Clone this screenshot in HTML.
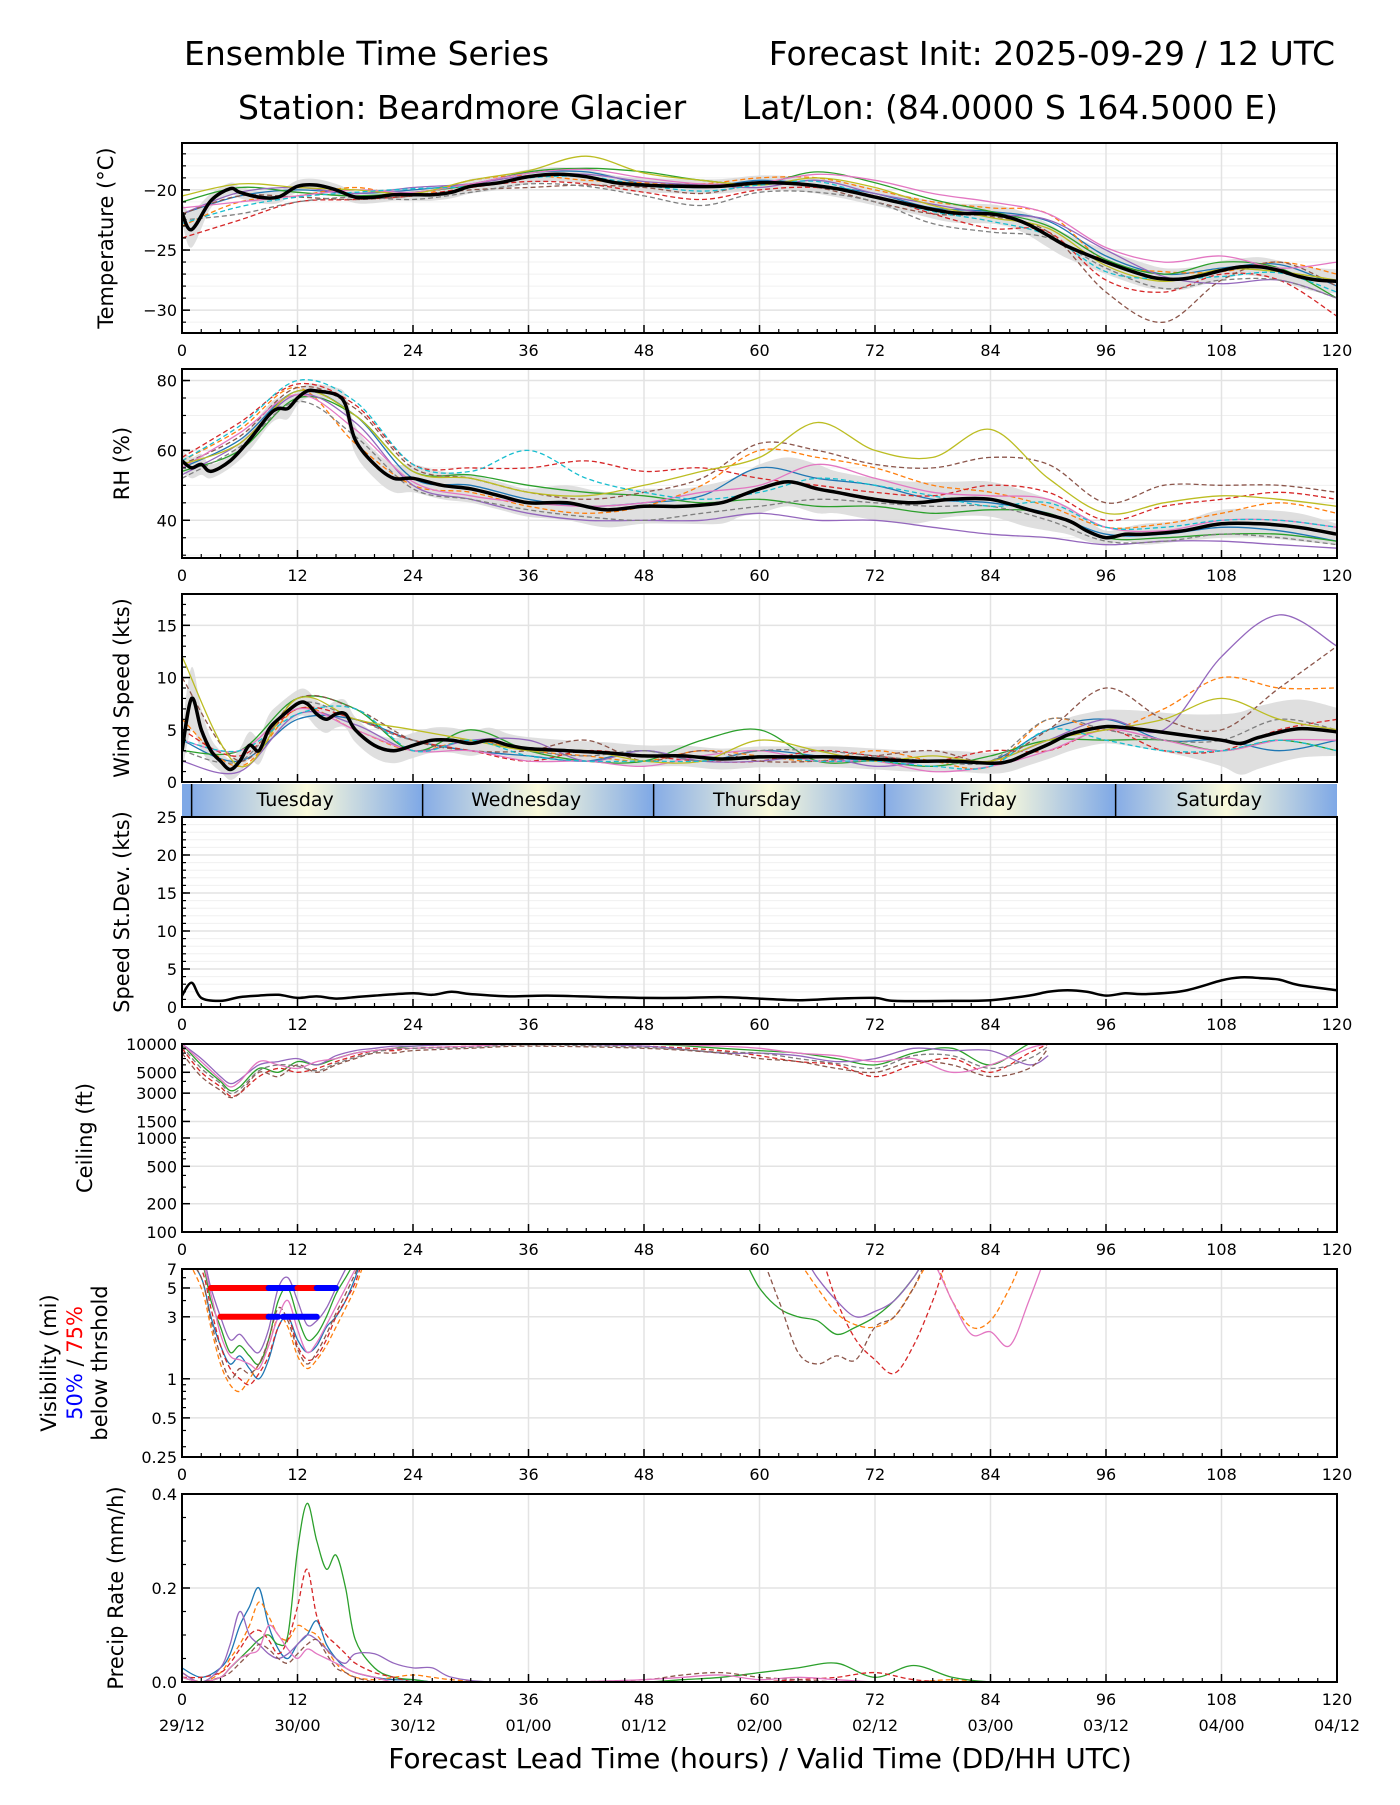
<!DOCTYPE html>
<html><head><meta charset="utf-8">
<style>
html,body{margin:0;padding:0;background:#fff;}
svg text{font-family:"DejaVu Sans","Liberation Sans",sans-serif;fill:#000;}
</style></head>
<body>
<svg id="chart" xmlns="http://www.w3.org/2000/svg" width="1400" height="1800" viewBox="0 0 1400 1800">
<defs>
<linearGradient id="dayGrad" x1="0" x2="1" y1="0" y2="0">
<stop offset="0" stop-color="#86ace6"/><stop offset="0.5" stop-color="#fafadc"/><stop offset="1" stop-color="#7ea8e6"/>
</linearGradient>
</defs>
<text x="184" y="65" font-size="33">Ensemble Time Series</text>
<text x="1335" y="65" font-size="33" text-anchor="end">Forecast Init: 2025-09-29 / 12 UTC</text>
<text x="238" y="119" font-size="33">Station: Beardmore Glacier</text>
<text x="1278" y="119" font-size="33" text-anchor="end">Lat/Lon: (84.0000 S 164.5000 E)</text>
<text x="760" y="1768" font-size="28" text-anchor="middle">Forecast Lead Time (hours) / Valid Time (DD/HH UTC)</text>
</svg>
<script>
// ---------- DATA ----------
const meanHours = [0,1,3,5,6,8,10,12,14,16,18,20,22,24,26,28,30,33,36,39,42,45,48,52,56,60,64,68,72,76,80,84,86,88,90,92,96,100,102,104,106,108,110,112,114,116,118,120];
const tempMean = [-21.9,-23.3,-20.9,-19.9,-20.2,-20.6,-20.6,-19.7,-19.6,-20,-20.6,-20.6,-20.4,-20.4,-20.4,-20.2,-19.7,-19.4,-18.9,-18.7,-18.9,-19.4,-19.6,-19.7,-19.7,-19.4,-19.5,-19.9,-20.6,-21.3,-21.9,-22.0,-22.3,-22.9,-23.8,-24.7,-26.0,-27.1,-27.4,-27.4,-27.1,-26.7,-26.4,-26.4,-26.7,-27.2,-27.5,-27.6];
const tempSpread = [0.8,1.5,0.6,0.5,0.5,0.5,0.5,0.5,0.5,0.5,0.5,0.5,0.5,0.5,0.5,0.5,0.6,0.6,0.6,0.6,0.6,0.6,0.6,0.6,0.6,0.6,0.6,0.7,0.7,0.7,0.8,0.8,0.8,0.9,1.0,1.0,1.0,1.0,0.9,0.9,0.8,0.8,0.7,0.8,0.8,0.9,1.0,1.0];
const rhHours = [0,1,2,3,5,7,9,10,11,12,13,14,16,17,18,20,22,24,27,30,33,36,40,44,48,52,56,58,60,63,66,68,72,76,80,84,88,92,94,96,98,100,104,108,112,116,120];
const rhMean = [57,55,56,54,57,63,70,72,72,75,77,77,76,73,63,56,52,52,50,49,47,45,45,43,44,44,45,47,49,51,49,48,46,45,46,46,43,40,37,35,36,36,37,39,39,38,36];
const rhSpread = [3,3,3,2,2,3,3,3,3,2,2,2,2,3,4,4,4,4,4,4,4,4,5,5,5,5,6,6,7,7,7,6,6,6,5,5,5,4,3,2,2,3,3,4,4,4,3];
const windHours = [0,1,2,3,4,5,6,7,8,9,10,12,13,14,15,16,17,18,20,22,24,26,28,30,32,34,36,40,44,48,52,56,60,64,68,72,76,80,84,86,88,90,92,94,96,98,100,104,108,110,112,116,120];
const windMean = [3,8,5,3,2,1.2,2,3.5,3,5,6,7.5,7.5,6.5,6,6.5,6.5,5,3.5,3,3.5,4,4,3.7,4,3.5,3.2,3,2.8,2.5,2.5,2.2,2.4,2.4,2.4,2.2,2,2,1.8,2,2.8,3.6,4.5,5,5.3,5.2,5,4.5,4,3.7,4.3,5.1,4.8];
const windSpread = [2,3,2,1.2,1,1,1.2,1.3,1.3,1.4,1.4,1.3,1.3,1.3,1.3,1.3,1.3,1.2,1.2,1.2,1.2,1.2,1.2,1.2,1.2,1.1,1.1,1,1,1,1,1,1,1,1,1,1,1,1,1,1.2,1.4,1.6,1.6,1.6,1.7,1.8,2,2.5,3,3,2.8,2.3];
const sdHours = [0,1,2,4,6,8,10,12,14,16,18,20,24,26,28,30,34,38,44,48,52,56,60,64,68,72,74,80,84,88,90,92,94,96,98,100,104,108,110,112,114,116,120];
const sdValues = [1.5,3.2,1.2,0.8,1.3,1.5,1.6,1.2,1.4,1.1,1.3,1.5,1.8,1.6,2.0,1.7,1.4,1.5,1.3,1.2,1.2,1.3,1.1,0.9,1.1,1.2,0.8,0.8,0.9,1.5,2.0,2.2,2.0,1.5,1.8,1.7,2.1,3.5,3.9,3.8,3.6,2.9,2.2];

const memberHours = [0,6,12,18,24,30,36,42,48,54,60,66,72,78,84,90,96,102,108,114,120];
const tempM1 = [-22,-20.5,-20,-20.3,-20,-19.5,-18.6,-18.5,-19.5,-19.8,-19.2,-19.6,-20.3,-21.5,-21.8,-22.6,-25.5,-27,-26.5,-26.2,-28];
const tempM2 = [-23,-21,-20.5,-19.8,-20.5,-19.2,-18.8,-19.2,-19.4,-19.5,-19,-19,-20,-21,-21.5,-22,-26,-26.8,-26.8,-26,-27];
const tempM3 = [-21,-19.8,-20.2,-20.5,-20.2,-19.6,-18.5,-18.2,-18.5,-19.2,-19.5,-18.5,-19.4,-20.8,-21.8,-23,-25.8,-27,-26,-26.5,-29];
const tempM4 = [-24,-22.5,-21,-20.8,-20.5,-19.8,-19.3,-19.5,-20.2,-20.8,-20,-19.8,-20.5,-22,-23.2,-23.5,-27.5,-28.5,-27,-27.5,-30.5];
const tempM5 = [-22,-20.2,-19.8,-20.3,-19.8,-19.5,-18.8,-18.7,-19.3,-19.6,-19.8,-19.2,-20.3,-21.2,-22,-22.5,-25,-27.2,-27.8,-27.5,-29];
const tempM6 = [-22,-20.5,-20.6,-20.8,-20.5,-20,-19.8,-19.6,-19.8,-20.3,-19.5,-19.8,-21,-22,-22.2,-23.5,-28.5,-31,-27.5,-26,-28];
const tempM7 = [-21.5,-21,-20.5,-20,-20.2,-19.5,-18.6,-18.3,-19,-19.5,-19.4,-18.7,-19.2,-20.3,-21,-22,-24.8,-26,-25.5,-26.5,-26];
const tempM8 = [-22.5,-22,-21,-20.6,-20.8,-20.2,-19.5,-19.7,-20.5,-21.3,-20.2,-20.2,-21,-22.8,-23.5,-24,-26.5,-28.2,-27.5,-27.5,-29];
const tempM9 = [-20.5,-19.5,-19.8,-20,-20.3,-19.2,-18.4,-17.2,-18.6,-19.2,-19.6,-19,-19.8,-21.3,-22.3,-23.2,-26.3,-27.6,-26.6,-26.8,-27.5];
const tempM10 = [-22.8,-21.4,-20.6,-20.2,-19.9,-19.7,-19.0,-18.9,-19.6,-20.1,-19.6,-19.3,-20.6,-21.8,-22.6,-23.8,-26.8,-27.4,-27.2,-26.9,-28.5];

const rhM1 = [55,63,77,70,52,50,46,44,45,47,55,52,50,46,45,42,36,36,38,37,34];
const rhM2 = [57,66,78,62,50,48,44,42,44,50,60,58,55,50,48,44,38,39,42,45,42];
const rhM3 = [54,60,75,70,54,53,50,48,47,45,46,44,44,42,43,42,35,35,36,36,34];
const rhM4 = [58,68,79,73,56,55,55,57,54,55,52,50,48,47,50,48,40,44,46,48,46];
const rhM5 = [53,62,76,68,50,46,42,40,40,40,42,40,40,38,36,35,33,34,34,33,32];
const rhM6 = [56,64,78,72,55,52,48,46,48,52,62,60,56,55,58,56,45,50,50,50,48];
const rhM7 = [55,65,76,66,51,47,45,44,45,48,50,56,52,48,47,46,38,37,40,40,38];
const rhM8 = [52,61,74,64,49,46,43,41,40,42,44,46,45,44,44,40,34,34,36,35,33];
const rhM9 = [56,62,77,70,54,52,48,47,50,54,58,68,60,58,66,52,42,45,47,46,44];
const rhM10 = [57,67,80,74,56,54,60,52,48,46,48,52,50,47,44,45,38,38,40,40,38];

const windM1 = [4,2,6,6,4,3,2.5,2,3,2,3,2.5,2,2,2,5,6,4,4,3,4];
const windM2 = [6,1.5,7,5,3,4,3,2.5,2,3,2.5,2,3,2,1.5,6,5,7,10,9,9];
const windM3 = [3,3,8,7,3,5,3,2,2,4,5,2,2,1.5,2.5,4,4,4,3,4,3];
const windM4 = [5,2.5,7,6,4,3,2,3,2.5,2,2,3,2.5,2,3,3,5,3,3,5,6];
const windM5 = [2,1,6.5,5.5,3,4,4,2,3,2,2,2.5,1.5,2,2,4,6,5,12,16,13];
const windM6 = [10,2,8,7,4,3,3,4,2,3,2,2,2.5,3,2,5,9,6,5,9,13];
const windM7 = [4,3,7,5,3,3,2,2,1.5,2.5,3,2,2,1,1.5,3,5,4,3,4,4];
const windM8 = [3,2,7.5,6,4,4,3,2.5,3,2,3,3,2.5,2,2,6,5,4,4,6,5];
const windM9 = [12,1.5,8,6,5,4,3,3,2,2,4,3,2,2.5,2,4,5,6,8,6,5];
const windM10 = [4,3,6.5,7,3,4,2.5,2,2,2,2.5,2,2,1.5,1.5,5,4,3,3,4,3];

const ceilHours = [0,2,4,5,6,8,10,12,14,16,18,20,22,24,30,36,48,56,60,64,68,72,76,80,84,88,90];
const ceilM1 = [10000,6000,4000,3200,3500,5500,5000,6500,6000,7000,8000,8500,9000,9500,10000,10000,10000,9000,8500,8000,7000,6000,8000,9000,6000,10000,10000];
const ceilM2 = [9000,5000,3500,2800,3000,4500,5500,5000,5500,6500,7500,8500,8500,9000,9500,10000,9500,8500,7500,6500,6000,4500,6000,7000,5000,8000,10000];
const ceilM3 = [10000,7000,4500,3800,4200,6000,6500,7000,6000,7500,8500,9000,9500,9500,10000,10000,9500,8000,8000,7500,6500,7000,9000,8500,8500,6000,7500];
const ceilM4 = [8000,4500,3200,2700,3000,5000,4500,6000,5000,6000,7000,8000,8000,8500,9000,9500,9000,8000,7000,6500,5500,5000,6500,6000,4500,5500,9000];
const ceilM5 = [10000,6500,4200,3500,4000,6500,6000,5500,6500,7000,8000,8500,9000,9000,9500,10000,10000,9500,9000,8000,7500,6500,7000,5000,6000,9000,10000];
const ceilM6 = [9500,5500,3800,3000,3300,5200,6000,5800,5200,6200,7200,8200,8800,9000,9200,9800,9200,8200,8000,7000,6200,5500,7500,7500,5500,7000,9500];

const visHours = [0,2,3,4,5,6,7,8,9,10,11,12,13,14,15,16,17,18,19,20,22,24,50,54,56,58,60,62,64,66,68,70,72,74,76,78,80,82,84,86,88,90];
const visM1 = [10,6,3,1.8,1.3,1.5,1.2,1.0,1.4,2.5,3,2,1.6,1.8,2.5,3,4,6,10,10,10,10,10,10,10,10,10,10,10,10,10,10,10,10,10,10,10,10,10,10,10,10];
const visM2 = [10,5,2.5,1.3,0.9,0.8,1.0,1.3,1.8,3,2.5,1.5,1.2,1.4,1.8,2.5,3.5,5,8,10,10,10,10,10,10,10,10,10,8,5,3.2,2.6,2.5,3,5,8,4,2.5,2.8,5,10,10];
const visM3 = [10,8,4,2.5,1.6,1.8,1.5,1.3,2,4,5,3,2,2.2,3,4.5,6,8,10,10,10,10,10,10,10,9,5,3.5,3,2.8,2.2,2.5,3,4,6,10,10,10,10,10,10,10];
const visM4 = [10,7,3.5,1.8,1.2,1.0,0.9,1.1,1.5,2.5,3,1.8,1.4,1.5,2,3,4,5.5,9,10,10,10,10,10,10,10,10,10,10,10,4,2,1.4,1.1,1.8,4,10,10,10,10,10,10];
const visM5 = [10,9,5,3,2,2.2,1.8,1.6,2.4,5,6,4,2.6,2.8,3.5,5,7,10,10,10,10,10,10,10,10,10,10,10,10,6,4,3,3.3,4,6,10,10,10,10,10,10,10];
const visM6 = [10,6,2.8,1.5,1.0,1.2,1.1,1.3,2,3.5,2.8,1.7,1.3,1.6,2.2,3.2,4.5,6.5,10,10,10,10,10,10,10,10,9,4,1.6,1.3,1.5,1.4,2.5,3,5,10,10,10,10,10,10,10];
const visM7 = [10,8,4.5,2.2,1.5,1.4,1.3,1.2,1.8,3,4,2.4,1.6,1.9,2.6,3.6,5,7,10,10,10,10,10,10,10,10,10,10,10,10,10,10,10,10,10,8,4,2.2,2.3,1.8,4,10];

const precipHours = [0,2,4,5,6,7,8,9,10,11,12,13,14,15,16,17,18,20,22,24,26,28,32,40,48,52,56,60,64,68,72,76,80,84,88,92,100,120];
const prM1 = [0.03,0.01,0.03,0.06,0.12,0.16,0.2,0.12,0.07,0.05,0.08,0.1,0.13,0.08,0.05,0.03,0.02,0.01,0.005,0.005,0,0,0,0,0,0,0,0,0,0,0,0,0,0,0,0,0,0];
const prM2 = [0.02,0,0.02,0.05,0.08,0.12,0.17,0.14,0.1,0.09,0.12,0.11,0.1,0.07,0.04,0.02,0.01,0.005,0.01,0.015,0.01,0.005,0,0,0,0,0,0,0,0,0,0,0.005,0,0,0,0,0];
const prM3 = [0.01,0,0.01,0.03,0.05,0.07,0.09,0.1,0.08,0.1,0.28,0.38,0.3,0.24,0.27,0.2,0.09,0.03,0.01,0.005,0,0,0,0,0,0.005,0.01,0.02,0.03,0.04,0.01,0.035,0.01,0,0,0,0,0];
const prM4 = [0.01,0.01,0.02,0.04,0.07,0.1,0.11,0.09,0.06,0.09,0.16,0.24,0.14,0.1,0.08,0.06,0.04,0.02,0.01,0,0,0,0,0,0,0,0,0,0.005,0.01,0.02,0.005,0,0,0,0,0,0];
const prM5 = [0.02,0,0.03,0.08,0.15,0.1,0.08,0.06,0.05,0.06,0.08,0.1,0.09,0.07,0.05,0.04,0.06,0.06,0.04,0.03,0.03,0.01,0,0,0,0,0,0,0,0,0,0,0,0,0,0,0,0];
const prM6 = [0,0,0.01,0.02,0.04,0.06,0.08,0.07,0.05,0.04,0.06,0.08,0.09,0.06,0.03,0.02,0.01,0,0,0,0,0,0,0,0.005,0.015,0.02,0.01,0.005,0,0,0,0,0,0,0,0,0];
const prM7 = [0.01,0,0.01,0.03,0.05,0.06,0.07,0.12,0.1,0.07,0.05,0.07,0.06,0.05,0.04,0.03,0.02,0.01,0,0,0,0,0,0,0.005,0.01,0.015,0.005,0.01,0.005,0,0,0,0,0,0,0,0];

const xTickLabels = ['0','12','24','36','48','60','72','84','96','108','120'];
const dateLabels = ['29/12','30/00','30/12','01/00','01/12','02/00','02/12','03/00','03/12','04/00','04/12'];
const dayNames = ['Tuesday','Wednesday','Thursday','Friday','Saturday'];
const dayStarts = [1,25,49,73,97];
const visThresh5 = [[3,9,'red'],[9,12,'blue'],[12,14,'red'],[14,16,'blue']];
const visThresh3 = [[4,9,'red'],[9,10,'blue'],[10.5,14,'blue']];

// ---------- DRAWING ----------
const NS='http://www.w3.org/2000/svg';
const svg=document.getElementById('chart');
const L=182,R=1337;
const COLORS=['#1f77b4','#ff7f0e','#2ca02c','#d62728','#9467bd','#8c564b','#e377c2','#7f7f7f','#bcbd22','#17becf'];
function X(h){return L+(h/120)*(R-L);}
function mk(tag,attrs,parent){const e=document.createElementNS(NS,tag);for(const k in attrs)e.setAttribute(k,attrs[k]);(parent||svg).appendChild(e);return e;}
function smoothPath(pts){
  if(pts.length<2)return '';
  let d='M'+pts[0][0].toFixed(1)+','+pts[0][1].toFixed(1);
  for(let i=0;i<pts.length-1;i++){
    const p0=pts[Math.max(0,i-1)],p1=pts[i],p2=pts[i+1],p3=pts[Math.min(pts.length-1,i+2)];
    const c1x=p1[0]+(p2[0]-p0[0])/6,c1y=p1[1]+(p2[1]-p0[1])/6;
    const c2x=p2[0]-(p3[0]-p1[0])/6,c2y=p2[1]-(p3[1]-p1[1])/6;
    d+='C'+c1x.toFixed(1)+','+c1y.toFixed(1)+' '+c2x.toFixed(1)+','+c2y.toFixed(1)+' '+p2[0].toFixed(1)+','+p2[1].toFixed(1);
  }
  return d;
}
let clipN=0;
function panel(o){
  const g=mk('g',{});
  
  
  const id='clip'+(clipN++);
  const cp=mk('clipPath',{id:id},g);mk('rect',{x:L,y:o.top,width:R-L,height:o.bot-o.top},cp);
  (o.minorGrid||[]).forEach(v=>{const y=o.Y(v);mk('line',{x1:L,x2:R,y1:y,y2:y,stroke:'#f0f0f0','stroke-width':1},g);});
  for(let h=12;h<120;h+=12){const gl=mk('line',{x1:X(h),x2:X(h),y1:o.top,y2:o.bot,stroke:'#e3e3e3','stroke-width':1.5},g);}
  o.ticks.forEach(v=>{const y=o.Y(v);if(y>o.top+1&&y<o.bot-1)mk('line',{x1:L,x2:R,y1:y,y2:y,stroke:'#e3e3e3','stroke-width':1.5},g);});
  const plot=mk('g',{'clip-path':'url(#'+id+')'},g);
  if(o.draw)o.draw(plot,o.Y);
  const box=mk('rect',{x:L,y:o.top,width:R-L,height:o.bot-o.top,fill:'none',stroke:'#000','stroke-width':2},g);
  
  for(let h=0;h<=120;h+=2){const maj=h%12===0;mk('line',{x1:X(h),x2:X(h),y1:o.bot,y2:o.bot-(maj?8:4),stroke:'#000','stroke-width':maj?1.5:1.2},g);}
  (o.minorTicks||[]).forEach(v=>{const y=o.Y(v);mk('line',{x1:L,x2:L+4,y1:y,y2:y,stroke:'#000','stroke-width':1.2},g);});
  o.ticks.forEach((v,i)=>{const y=o.Y(v);mk('line',{x1:L,x2:L+8,y1:y,y2:y,stroke:'#000','stroke-width':1.5},g);
    const t=mk('text',{x:L-5,y:y+6,'font-size':16,'text-anchor':'end'},g);t.textContent=o.tickLabels[i];
    });
  if(!o.noXLabels){
    xTickLabels.forEach((s,i)=>{const t=mk('text',{x:X(i*12),y:o.bot+23,'font-size':16,'text-anchor':'middle'},g);t.textContent=s;
      });
  }
  if(o.label){const cy=(o.top+o.bot)/2;const t=mk('text',{x:0,y:0,'font-size':21,'text-anchor':'middle',transform:'translate('+o.lx+','+cy+') rotate(-90)'},g);t.textContent=o.label;
    }
  return g;
}
function linY(min,max,top,bot){return v=>bot-(v-min)/(max-min)*(bot-top);}
function logY(min,max,top,bot){return v=>bot-(Math.log10(v)-Math.log10(min))/(Math.log10(max)-Math.log10(min))*(bot-top);}
function member(parent,hours,vals,Y,i,name){
  const pts=hours.map((h,k)=>[X(h),Y(vals[k])]);
  const p=mk('path',{d:smoothPath(pts),fill:'none',stroke:COLORS[i%10],'stroke-width':1.3,'stroke-dasharray':i%2?'5,3':'none'},parent);
  
}
function band(parent,hours,mean,spread,Y,name){
  const up=hours.map((h,k)=>[X(h),Y(mean[k]+spread[k])]);
  const dn=hours.map((h,k)=>[X(h),Y(mean[k]-spread[k])]).reverse();
  const p=mk('path',{d:smoothPath(up)+'L'+smoothPath(dn).slice(1)+'Z',fill:'#d9d9d9',opacity:0.85},parent);
  
}
function meanLine(parent,hours,vals,Y,name,w){
  const p=mk('path',{d:smoothPath(hours.map((h,k)=>[X(h),Y(vals[k])])),fill:'none',stroke:'#000','stroke-width':w||3.5,'stroke-linejoin':'round'},parent);
  
}
function range(a,b,s){const r=[];for(let v=a;v<=b+1e-9;v+=s)r.push(+v.toFixed(3));return r;}

const tempMembers=[tempM1,tempM2,tempM3,tempM4,tempM5,tempM6,tempM7,tempM8,tempM9,tempM10];
const rhMembers=[rhM1,rhM2,rhM3,rhM4,rhM5,rhM6,rhM7,rhM8,rhM9,rhM10];
const windMembers=[windM1,windM2,windM3,windM4,windM5,windM6,windM7,windM8,windM9,windM10];

panel({name:'temperature',top:143,bot:333,Y:linY(-31.9,-16.1,143,333),ticks:[-20,-25,-30],tickLabels:['\u221220','\u221225','\u221230'],
  minorTicks:range(-31,-17,1),minorGrid:range(-31,-17,1),label:'Temperature (\u00b0C)',lx:113,
  draw:(g,Y)=>{band(g,meanHours,tempMean,tempSpread,Y,'temperature-spread-band');
    tempMembers.forEach((m,i)=>member(g,memberHours,m,Y,i,'temperature-member-'+(i+1)));
    meanLine(g,meanHours,tempMean,Y,'temperature-mean-line');}});

panel({name:'rh',top:369,bot:558,Y:linY(29.2,83.3,369,558),ticks:[40,60,80],tickLabels:['40','60','80'],
  minorTicks:range(30,80,5),minorGrid:range(30,80,5),label:'RH (%)',lx:129,
  draw:(g,Y)=>{band(g,rhHours,rhMean,rhSpread,Y,'rh-spread-band');
    rhMembers.forEach((m,i)=>member(g,memberHours,m,Y,i,'rh-member-'+(i+1)));
    meanLine(g,rhHours,rhMean,Y,'rh-mean-line');}});

panel({name:'wind-speed',top:594,bot:782,Y:linY(0,18,594,782),ticks:[0,5,10,15],tickLabels:['0','5','10','15'],
  minorTicks:range(1,17,1),label:'Wind Speed (kts)',lx:129,noXLabels:true,
  draw:(g,Y)=>{band(g,windHours,windMean,windSpread,Y,'wind-spread-band');
    windMembers.forEach((m,i)=>member(g,memberHours,m,Y,i,'wind-member-'+(i+1)));
    meanLine(g,windHours,windMean,Y,'wind-mean-line');}});

// day band
(function(){
  const g=mk('g',{});
  const top=784,bot=816;
  mk('rect',{x:L,y:top,width:X(dayStarts[0])-L,height:bot-top,fill:'#7ea8e6'},g);
  dayStarts.forEach((s,i)=>{
    const x0=X(s),x1=Math.min(X(s+24),R);
    const r=mk('rect',{x:x0,y:top,width:x1-x0,height:bot-top,fill:'url(#dayGrad)'},g);
    
    mk('line',{x1:x0,x2:x0,y1:top,y2:bot,stroke:'#000','stroke-width':1.5},g);
    const t=mk('text',{x:(x0+X(s+24))/2-12,y:top+22,'font-size':19,'text-anchor':'middle'},g);t.textContent=dayNames[i];
    
  });
})();

panel({name:'speed-stdev',top:817,bot:1007,Y:linY(0,25,817,1007),ticks:[0,5,10,15,20,25],tickLabels:['0','5','10','15','20','25'],
  minorTicks:range(1,24,1),minorGrid:range(1,24,1),label:'Speed St.Dev. (kts)',lx:129,
  draw:(g,Y)=>{meanLine(g,sdHours,sdValues,Y,'stdev-line',2.5);}});

const ceilMembers=[ceilM1,ceilM2,ceilM3,ceilM4,ceilM5,ceilM6];
panel({name:'ceiling',top:1044,bot:1232,Y:logY(100,10000,1044,1232),ticks:[100,200,500,1000,1500,3000,5000,10000],
  tickLabels:['100','200','500','1000','1500','3000','5000','10000'],minorTicks:[300,400,600,700,800,900,2000,4000,6000,7000,8000,9000],
  label:'Ceiling (ft)',lx:92,
  draw:(g,Y)=>{ceilMembers.forEach((m,i)=>member(g,ceilHours,m,Y,i+2,'ceiling-member-'+(i+1)));}});

const visMembers=[visM1,visM2,visM3,visM4,visM5,visM6,visM7];
panel({name:'visibility',top:1269,bot:1457,Y:logY(0.25,7,1269,1457),ticks:[0.25,0.5,1,3,5,7],tickLabels:['0.25','0.5','1','3','5','7'],
  minorTicks:[0.3,0.4,0.6,0.7,0.8,0.9,2,4,6],
  draw:(g,Y)=>{visMembers.forEach((m,i)=>member(g,visHours,m,Y,i,'visibility-member-'+(i+1)));
    [[visThresh5,5],[visThresh3,3]].forEach(([segs,v])=>segs.forEach(s=>{
      const l=mk('line',{x1:X(s[0]),x2:X(s[1]),y1:Y(v),y2:Y(v),stroke:s[2],'stroke-width':6,'stroke-linecap':'round'},g);
      }));}});
(function(){
  const cy=(1269+1457)/2;
  const t1=mk('text',{'font-size':21,'text-anchor':'middle',transform:'translate(56,'+cy+') rotate(-90)'});t1.textContent='Visibility (mi)';
  
  const t2=mk('text',{'font-size':21,'text-anchor':'middle',transform:'translate(82,'+cy+') rotate(-90)'});
  const a=mk('tspan',{},t2);a.textContent='50%';a.style.fill='#0000ff';
  const b=mk('tspan',{},t2);b.textContent=' / ';
  const c=mk('tspan',{},t2);c.textContent='75%';c.style.fill='#ff0000';
  
  const t3=mk('text',{'font-size':21,'text-anchor':'middle',transform:'translate(107,'+cy+') rotate(-90)'});t3.textContent='below thrshold';
  
})();

const prMembers=[prM1,prM2,prM3,prM4,prM5,prM6,prM7];
panel({name:'precip-rate',top:1494,bot:1682,Y:linY(0,0.4,1494,1682),ticks:[0,0.2,0.4],tickLabels:['0.0','0.2','0.4'],
  minorTicks:[0.05,0.1,0.15,0.25,0.3,0.35],label:'Precip Rate (mm/h)',lx:123,
  draw:(g,Y)=>{prMembers.forEach((m,i)=>member(g,precipHours,m.map(v=>Math.max(v,0)),Y,i,'precip-member-'+(i+1)));}});
dateLabels.forEach((s,i)=>{const t=mk('text',{x:X(i*12),y:1682+49,'font-size':16,'text-anchor':'middle'});t.textContent=s;
  });
</script>
</body></html>
